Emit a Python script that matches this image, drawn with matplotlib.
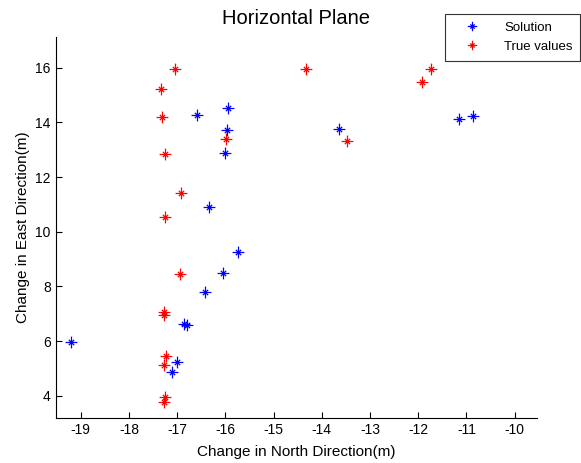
import matplotlib
matplotlib.use("Agg")
import matplotlib.pyplot as plt
from matplotlib.path import Path

plt.rcParams["font.family"] = ["Liberation Sans", "DejaVu Sans"]
plt.rcParams["axes.unicode_minus"] = False

# Solution points (north, east)
sol_north = [-16.59, -15.94, -15.96, -16.01, -16.33, -15.73, -16.05, -16.43,
             -16.86, -16.80, -19.20, -17.01, -17.11, -13.64, -11.15, -10.86]
sol_east = [14.28, 14.53, 13.72, 12.89, 10.89, 9.26, 8.49, 7.79,
            6.63, 6.60, 5.96, 5.22, 4.88, 13.75, 14.11, 14.22]

# True values (north, east)
true_north = [-17.04, -17.33, -17.32, -17.25, -16.93, -17.25, -15.99, -16.95,
              -17.27, -17.27, -17.24, -17.28, -17.25, -17.27,
              -14.33, -11.73, -11.91, -13.47]
true_east = [15.94, 15.21, 14.19, 12.84, 11.43, 10.53, 13.39, 8.45,
             7.06, 6.97, 5.46, 5.13, 3.96, 3.76,
             15.94, 15.94, 15.49, 13.33]

x_ticks = list(range(-19, -9))
y_ticks = [4, 6, 8, 10, 12, 14, 16]

# matlab-like asterisk: long plus arms, short diagonals
d = 0.45
star = Path(
    [(-1, 0), (1, 0), (0, -1), (0, 1), (-d, -d), (d, d), (-d, d), (d, -d)],
    [Path.MOVETO, Path.LINETO] * 4,
)

fig = plt.figure(figsize=(5.81, 4.63), dpi=100)
ax = fig.add_axes([0.0959, 0.0978, 0.8279, 0.8229])

ax.plot(sol_north, sol_east, linestyle="none", marker=star, color="blue",
        markersize=8.5, markeredgewidth=0.9, label="Solution")
ax.plot(true_north, true_east, linestyle="none", marker=star, color="red",
        markersize=8.5, markeredgewidth=0.9, label="True values")

ax.set_xlim(-19.52, -9.54)
ax.set_ylim(3.2, 17.13)
ax.set_xticks(x_ticks)
ax.set_yticks(y_ticks)
ax.tick_params(direction="in", length=4, width=0.8, labelsize=10, colors="black")
for side in ["top", "right"]:
    ax.spines[side].set_visible(False)
for side in ["left", "bottom"]:
    ax.spines[side].set_linewidth(0.8)

ax.set_title("Horizontal Plane", fontsize=14.5, pad=9)
ax.set_xlabel("Change in North Direction(m)", fontsize=11, labelpad=6)
ax.set_ylabel("Change in East Direction(m)", fontsize=11, labelpad=4)

leg = ax.legend(loc="upper right", bbox_to_anchor=(0.999, 0.97),
                bbox_transform=fig.transFigure, fontsize=9.5, fancybox=False,
                framealpha=1, edgecolor="#333333", borderpad=0.6,
                labelspacing=0.5, handlelength=3, handletextpad=0.9,
                borderaxespad=0, markerscale=0.8)
leg.get_frame().set_linewidth(0.8)

fig.savefig("out.png", dpi=100)
